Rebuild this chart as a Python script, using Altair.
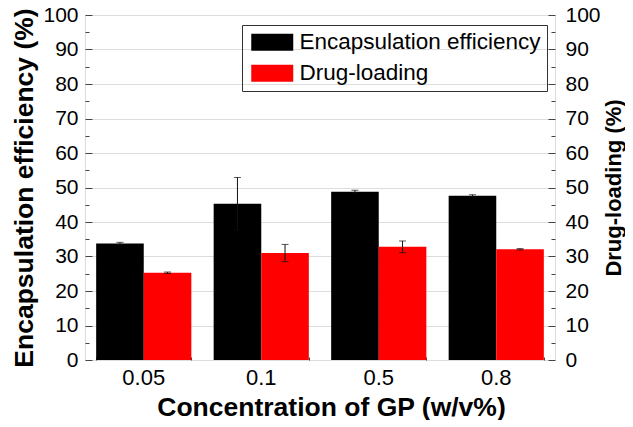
import altair as alt
import pandas as pd

conc = ["0.05", "0.1", "0.5", "0.8"]
series = ["Encapsulation efficiency", "Drug-loading"]
colors = ["#000000", "#ff0000"]
ee_mean = [33.8, 45.3, 48.8, 47.6]
ee_err = [0.3, 7.6, 0.4, 0.3]
dl_mean = [25.3, 31.0, 32.8, 32.1]
dl_err = [0.2, 2.5, 1.7, 0.2]
major_ticks = [0, 10, 20, 30, 40, 50, 60, 70, 80, 90, 100]
minor_ticks = [5, 15, 25, 35, 45, 55, 65, 75, 85, 95]

rows = []
for i, c in enumerate(conc):
    rows.append({"conc": c, "series": series[0], "mean": ee_mean[i],
                 "lo": ee_mean[i] - ee_err[i], "hi": ee_mean[i] + ee_err[i]})
    rows.append({"conc": c, "series": series[1], "mean": dl_mean[i],
                 "lo": dl_mean[i] - dl_err[i], "hi": dl_mean[i] + dl_err[i]})
df = pd.DataFrame(rows)

FONT = "Liberation Sans"
yscale = alt.Scale(domain=[0, 100], nice=False, zero=True)
xscale = alt.Scale(paddingInner=0.19, paddingOuter=0.095)
xoff = alt.XOffset("series:N", sort=series, scale=alt.Scale(paddingInner=0, paddingOuter=0))

def X(axis):
    return alt.X("conc:N", sort=conc, scale=xscale, axis=axis)

base = alt.Chart(df)

bars = base.mark_bar().encode(
    x=X(alt.Axis(title="Concentration of GP (w/v%)", labelAngle=0, ticks=False, domain=False,
                 labelFontSize=22, labelFont=FONT, labelColor="#000", labelPadding=7,
                 titleFontSize=26.5, titleFont=FONT, titleFontWeight="bold", titleColor="#000",
                 titleX=246, titleAlign="center", titlePadding=6, orient="bottom")),
    xOffset=xoff,
    y=alt.Y("mean:Q", scale=yscale,
            axis=alt.Axis(orient="left", values=major_ticks, ticks=False, domain=False,
                          labelFontSize=21, labelFont=FONT, labelColor="#000", labelPadding=7,
                          title="Encapsulation efficiency (%)", titleFontSize=26.5, titleFont=FONT,
                          titleFontWeight="bold", titleColor="#000", titlePadding=4)),
    color=alt.Color("series:N", sort=series,
                    scale=alt.Scale(domain=series, range=colors),
                    legend=alt.Legend(title=None, orient="none", legendX=157, legendY=10,
                                      direction="vertical",
                                      symbolType="M-2.47,-1H2.47V1H-2.47Z", symbolSize=289,
                                      symbolStrokeWidth=0, symbolOpacity=1,
                                      labelFontSize=22.5, labelFont=FONT, labelColor="#000",
                                      labelLimit=0,
                                      strokeColor="#333", padding=6, rowPadding=8,
                                      symbolOffset=13, labelOffset=16)),
)

rule = base.mark_rule(color="#111", strokeWidth=1).encode(
    x=X(None), xOffset=xoff,
    y=alt.Y("lo:Q", scale=yscale,
            axis=alt.Axis(orient="right", values=major_ticks, ticks=False, domain=False,
                          labelFontSize=21, labelFont=FONT, labelColor="#000", labelPadding=10,
                          title="Drug-loading (%)", titleFontSize=22, titleFont=FONT,
                          titleFontWeight="bold", titleColor="#000", titleAngle=-90,
                          titlePadding=25)),
    y2="hi:Q",
)

cap_hi = base.mark_tick(color="#111", thickness=1, size=7).encode(
    x=X(None), xOffset=xoff, y=alt.Y("hi:Q", scale=yscale, axis=None))
cap_lo = base.mark_tick(color="#111", thickness=1, size=7).encode(
    x=X(None), xOffset=xoff, y=alt.Y("lo:Q", scale=yscale, axis=None))

def tick_layer(orient, vals, size, xaxis=None):
    return base.mark_point(opacity=0).encode(
        x=X(xaxis), xOffset=xoff,
        y=alt.Y("mean:Q", scale=yscale,
                axis=alt.Axis(orient=orient, values=vals, labels=False, domain=False,
                              tickSize=size, offset=-size, tickColor="#444", title=None)))

xticks_axis = alt.Axis(orient="bottom", labels=False, domain=False, tickBand="extent",
                       tickSize=3, offset=-3, tickColor="#444", title=None)

t1 = tick_layer("left", major_ticks, 7, xticks_axis)
t2 = tick_layer("left", minor_ticks, 4)
t3 = tick_layer("right", major_ticks, 7)
t4 = tick_layer("right", minor_ticks, 4)

chart = alt.layer(bars, rule, cap_hi, cap_lo, t1, t2, t3, t4).resolve_axis(
    y="independent", x="independent"
).properties(
    width=470, height=345,
    autosize=alt.AutoSizeParams(type="none"),
    padding={"left": 77, "top": 7, "right": 70, "bottom": 60},
).configure_view(stroke="#444", strokeWidth=1).configure(background="white")

chart.save("out.html", embed_options={"renderer": "svg", "actions": False})
